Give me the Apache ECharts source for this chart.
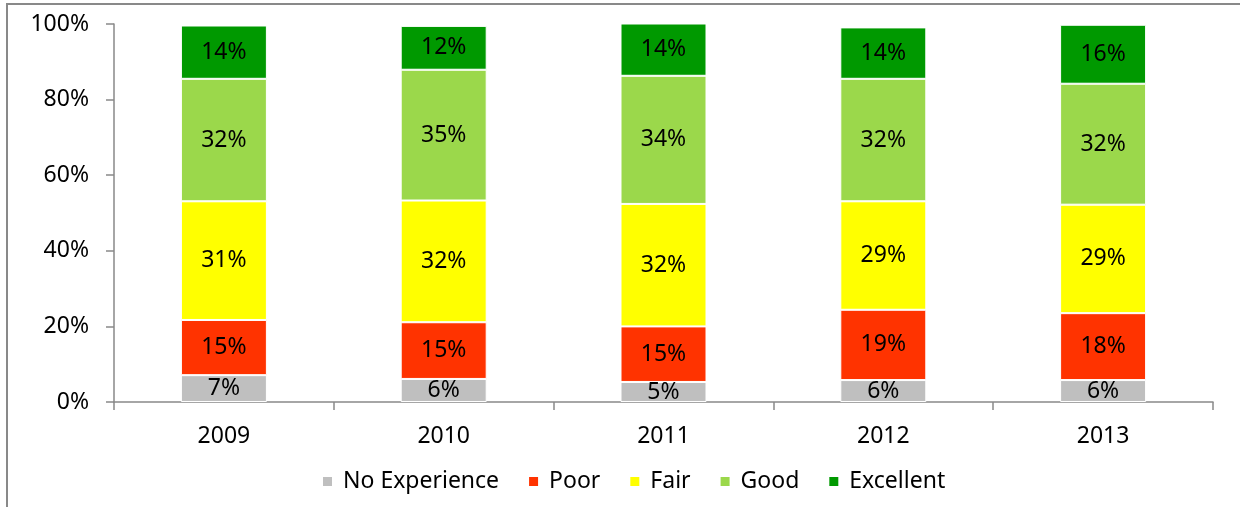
<!DOCTYPE html>
<html>
<head>
<meta charset="utf-8">
<script src="https://cdn.jsdelivr.net/npm/echarts@6/dist/echarts.min.js"></script>
<style>
html,body{margin:0;padding:0;background:#fff;}
#chart{width:1240px;height:507px;}
</style>
</head>
<body>
<div id="chart"></div>
<script>
const years = ['2009', '2010', '2011', '2012', '2013'];
const seriesNames = ['No Experience', 'Poor', 'Fair', 'Good', 'Excellent'];
const noExperience = [7.1, 6.1, 5.3, 5.8, 5.8];
const poor = [14.6, 15.0, 14.7, 18.6, 17.7];
const fair = [31.4, 32.2, 32.4, 28.7, 28.7];
const good = [32.4, 34.6, 33.9, 32.4, 32.0];
const excellent = [14.1, 11.6, 14.0, 13.6, 15.6];
const yTicks = [0, 20, 40, 60, 80, 100];

const colors = ['#BFBFBF', '#FF3300', '#FFFF00', '#9BD84B', '#009900'];
const values = [noExperience, poor, fair, good, excellent];
const FONT = 'Noto Sans';
const FS = 23;

const chart = echarts.init(document.getElementById('chart'), null, {renderer: 'canvas'});
chart.setOption({
  animation: false,
  backgroundColor: '#fff',
  textStyle: {fontFamily: FONT},
  graphic: [{
    type: 'rect',
    shape: {x: 7, y: 4, width: 1400, height: 700},
    style: {fill: 'none', stroke: '#898989', lineWidth: 2},
    silent: true
  }],
  grid: {left: 114, right: 27, top: 24, bottom: 105},
  legend: {
    data: seriesNames,
    left: 316,
    top: 465,
    itemWidth: 11,
    itemHeight: 11,
    itemGap: 28,
    icon: 'rect',
    textStyle: {fontFamily: FONT, fontSize: FS, color: '#000', padding: [0, 0, 0, 5]}
  },
  xAxis: {
    type: 'category',
    data: years,
    axisLine: {lineStyle: {color: '#898989', width: 1.5}},
    axisTick: {show: true, length: 8, lineStyle: {color: '#898989', width: 1.5}},
    axisLabel: {fontFamily: FONT, fontSize: FS, color: '#000', margin: 23}
  },
  yAxis: {
    type: 'value',
    min: 0,
    max: 100,
    interval: 20,
    splitLine: {show: false},
    axisLine: {show: true, lineStyle: {color: '#898989', width: 1.5}},
    axisTick: {show: true, length: 8, lineStyle: {color: '#898989', width: 1.5}},
    axisLabel: {
      fontFamily: FONT, fontSize: FS, color: '#000', margin: 25,
      formatter: v => yTicks.includes(v) ? v + '%' : ''
    }
  },
  series: seriesNames.map((name, i) => ({
    name: name,
    type: 'bar',
    stack: 'total',
    barWidth: 86,
    data: values[i],
    itemStyle: {color: colors[i], borderColor: '#fff', borderWidth: 1},
    label: {
      show: true,
      position: 'inside',
      fontFamily: FONT,
      fontSize: FS,
      color: '#000',
      formatter: p => Math.round(p.value) + '%'
    }
  }))
});
</script>
</body>
</html>
